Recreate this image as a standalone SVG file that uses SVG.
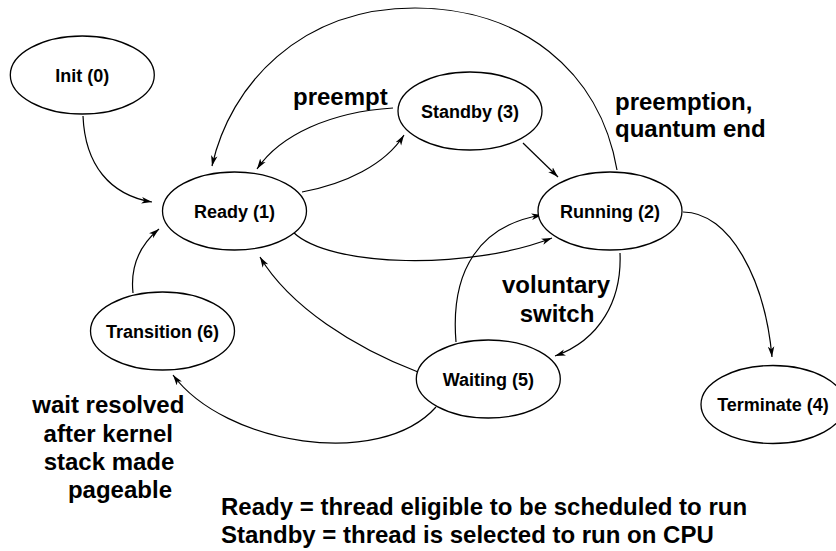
<svg xmlns="http://www.w3.org/2000/svg" width="836" height="551" viewBox="0 0 836 551">
<style>
.node ellipse{fill:#fff;stroke:#000;stroke-width:1.3}
.node text{font-family:"Liberation Sans",Arial,sans-serif;font-weight:bold;font-size:18px;text-anchor:middle;fill:#000}
.edges path{fill:none;stroke:#000;stroke-width:1.2;marker-end:url(#arr)}
.edges path.plain{marker-end:none}
.lbl{font-family:"Liberation Sans",Arial,sans-serif;font-weight:bold;font-size:24px;fill:#000}
</style>
<defs>
<marker id="arr" markerUnits="userSpaceOnUse" markerWidth="11" markerHeight="8" refX="10.5" refY="3.75" orient="auto" viewBox="0 0 11 7.5">
<path d="M0,0.5 L10.5,3.75 L0,7 L2.8,3.75 z" fill="#000"/>
</marker>
</defs>
<rect width="836" height="551" fill="#fff"/>
<g class="edges" id="connectors">
<path d="M83,116 C85,165 110,195 152,202"/>
<path d="M617,170 C600,70 520,8 415,8 C300,8 230,85 212,166"/>
<path d="M393,108 C330,112 280,135 257,169"/>
<path d="M302,192 C345,184 385,165 404,135"/>
<path d="M523,143 L558,177"/>
<path d="M293,232 C330,268 470,270 552,238"/>
<path d="M456,342 C450,270 480,225 542,215"/>
<path d="M620,253 C622,300 600,340 555,356"/>
<path d="M418,372 C355,348 290,307 260,257"/>
<path d="M436,407 C380,470 225,445 173,375"/>
<path d="M133,293 C130,265 140,245 159,229"/>
<path d="M683,212 C730,212 765,280 772,357"/>
</g>
<g class="node" id="init"><ellipse cx="82.3" cy="75" rx="72" ry="39"/><text x="82.3" y="81.5">Init (0)</text></g>
<g class="node" id="ready"><ellipse cx="234.5" cy="211" rx="72" ry="39"/><text x="234.5" y="217.5">Ready (1)</text></g>
<g class="node" id="standby"><ellipse cx="470" cy="111" rx="72" ry="39"/><text x="470" y="117.5">Standby (3)</text></g>
<g class="node" id="running"><ellipse cx="610" cy="211" rx="72" ry="39"/><text x="610" y="217.5">Running (2)</text></g>
<g class="node" id="transition"><ellipse cx="162.5" cy="331" rx="72" ry="39"/><text x="162.5" y="337.5">Transition (6)</text></g>
<g class="node" id="waiting"><ellipse cx="488.3" cy="379" rx="72" ry="39"/><text x="488.3" y="385.5">Waiting (5)</text></g>
<g class="node" id="terminate"><ellipse cx="773" cy="404.5" rx="72" ry="39"/><text x="773" y="411">Terminate (4)</text></g>
<g id="labels">
<text class="lbl" x="293" y="105">preempt</text>
<text class="lbl" x="615" y="110">preemption,</text>
<text class="lbl" x="615" y="137">quantum end</text>
<text class="lbl" x="556" y="293" text-anchor="middle">voluntary</text>
<text class="lbl" x="557" y="322" text-anchor="middle">switch</text>
<text class="lbl" x="108.3" y="413" text-anchor="middle">wait resolved</text>
<text class="lbl" x="108.3" y="442" text-anchor="middle">after kernel</text>
<text class="lbl" x="109" y="470" text-anchor="middle">stack made</text>
<text class="lbl" x="172" y="498" text-anchor="end">pageable</text>
<text class="lbl" x="221" y="515">Ready = thread eligible to be scheduled to run</text>
<text class="lbl" x="221" y="543">Standby = thread is selected to run on CPU</text>
</g>
</svg>
